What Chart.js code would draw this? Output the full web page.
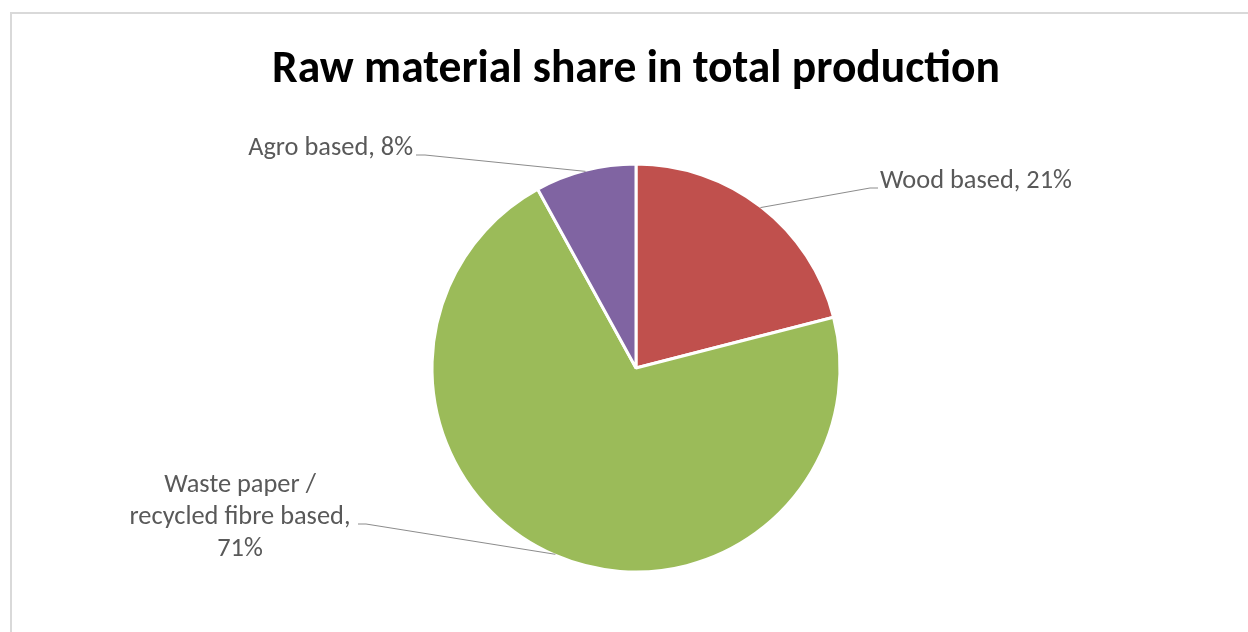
<!DOCTYPE html>
<html>
<head>
<meta charset="utf-8">
<title>Raw material share in total production</title>
<script src="https://cdn.jsdelivr.net/npm/chart.js@4.4.1/dist/chart.umd.min.js"></script>
<style>
  html, body { margin: 0; padding: 0; background: #fff; }
  #wrap { width: 1248px; height: 632px; }
</style>
</head>
<body>
<div id="wrap"><canvas id="pieChart" width="1248" height="632"></canvas></div>
<script>
// Datos del gráfico
const chartTitle = 'Raw material share in total production';
const categories = ['Wood based', 'Waste paper / recycled fibre based', 'Agro based'];
const shares = [21, 71, 8];
const sliceColors = ['#C0504D', '#9BBB59', '#8064A2'];

const FONT = 'Carlito, Lato, "Open Sans", sans-serif';

// Ajusta el tamaño de la fuente al ancho que ocupa el texto en la imagen
function fitSize(text, weight, targetWidth) {
  const ctx = document.createElement('canvas').getContext('2d');
  ctx.font = `${weight} 100px ${FONT}`;
  return 100 * targetWidth / ctx.measureText(text).width;
}
const titleSize = fitSize(chartTitle, 'bold', 728);
const labelSize = fitSize(`${categories[0]}, ${shares[0]}%`, 'normal', 192);

// Posición de cada etiqueta y su línea guía (mismo orden que categories)
const labelLayout = [
  { x: 880, y: 181, align: 'left',   elbow: [[870, 188], [878, 188]] },
  { x: 240, y: 517, align: 'center', wrap: 232, lineGap: 32, elbow: [[366, 524], [358, 524]] },
  { x: 413, y: 148, align: 'right',  elbow: [[425, 155], [416, 155]] }
];

function wrapText(ctx, text, maxWidth) {
  const words = text.split(' ');
  const lines = [];
  let line = '';
  words.forEach(w => {
    const test = line ? line + ' ' + w : w;
    if (line && ctx.measureText(test).width > maxWidth) {
      lines.push(line);
      line = w;
    } else {
      line = test;
    }
  });
  if (line) lines.push(line);
  return lines;
}

// Marco gris del área del gráfico
const chartFrame = {
  id: 'chartFrame',
  beforeDraw(chart) {
    const ctx = chart.ctx;
    ctx.save();
    ctx.fillStyle = '#fff';
    ctx.fillRect(0, 0, chart.width, chart.height);
    ctx.strokeStyle = '#d9d9d9';
    ctx.lineWidth = 2;
    ctx.beginPath();
    ctx.moveTo(11, chart.height);
    ctx.lineTo(11, 13);
    ctx.lineTo(chart.width, 13);
    ctx.stroke();
    ctx.restore();
  }
};

// Etiquetas con líneas guía
const leaderLabels = {
  id: 'leaderLabels',
  afterDatasetsDraw(chart) {
    const ctx = chart.ctx;
    const meta = chart.getDatasetMeta(0);
    ctx.save();
    ctx.font = `normal ${labelSize}px ${FONT}`;
    meta.data.forEach((arc, i) => {
      const lay = labelLayout[i];
      const p = arc.getProps(['x', 'y', 'startAngle', 'endAngle', 'outerRadius'], true);
      const mid = (p.startAngle + p.endAngle) / 2;
      const ex = p.x + Math.cos(mid) * (p.outerRadius - 1);
      const ey = p.y + Math.sin(mid) * (p.outerRadius - 1);

      ctx.strokeStyle = '#8c8c8c';
      ctx.lineWidth = 1;
      ctx.beginPath();
      ctx.moveTo(ex, ey);
      lay.elbow.forEach(pt => ctx.lineTo(pt[0], pt[1]));
      ctx.stroke();

      const text = `${chart.data.labels[i]}, ${chart.data.datasets[0].data[i]}%`;
      const lines = lay.wrap ? wrapText(ctx, text, lay.wrap) : [text];
      const gap = lay.lineGap || labelSize * 1.2;
      ctx.fillStyle = '#595959';
      ctx.textAlign = lay.align;
      ctx.textBaseline = 'middle';
      lines.forEach((ln, k) => {
        ctx.fillText(ln, lay.x, lay.y + (k - (lines.length - 1) / 2) * gap);
      });
    });
    ctx.restore();
  }
};

const titleTop = 71 - 0.6 * titleSize;

new Chart(document.getElementById('pieChart'), {
  type: 'pie',
  data: {
    labels: categories,
    datasets: [{
      data: shares,
      backgroundColor: sliceColors,
      borderColor: '#ffffff',
      borderWidth: 3
    }]
  },
  options: {
    responsive: false,
    maintainAspectRatio: false,
    animation: false,
    // el centro del pastel queda en x = (24 + 1248) / 2 = 636
    layout: { padding: { left: 24, right: 0, top: 0, bottom: 58.5 } },
    plugins: {
      legend: { display: false },
      tooltip: { enabled: false },
      title: {
        display: true,
        text: chartTitle,
        color: '#000',
        font: { family: FONT, size: titleSize, weight: 'bold', lineHeight: 1.2 },
        padding: { top: titleTop, bottom: 162.5 - titleTop - 1.2 * titleSize }
      }
    }
  },
  plugins: [chartFrame, leaderLabels]
});
</script>
</body>
</html>
